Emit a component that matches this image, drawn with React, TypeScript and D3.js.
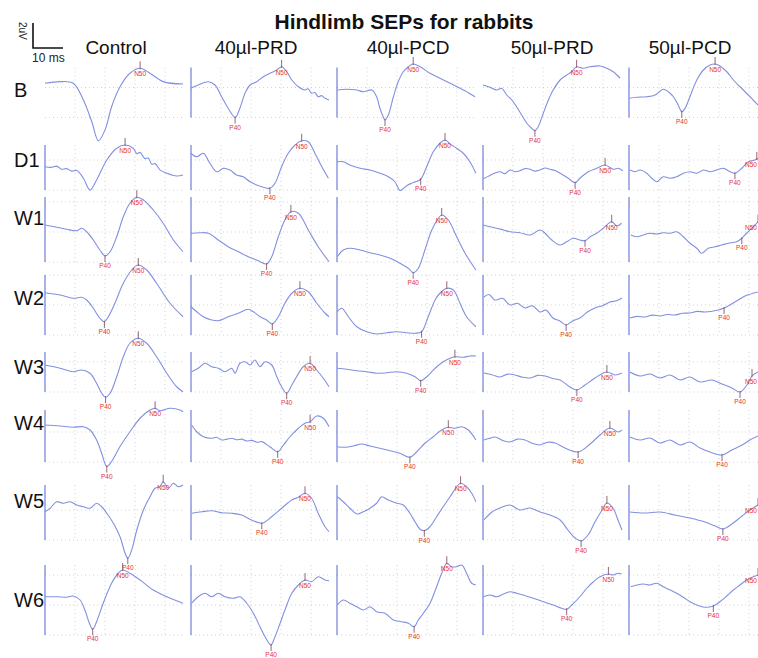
import React from 'react';
import * as d3 from 'd3';

// Hindlimb SEP traces: [time (ms), amplitude (µV)]
const columns = ['Control', '40µl-PRD', '40µl-PCD', '50µl-PRD', '50µl-PCD'];
const rows = ['B', 'D1', 'W1', 'W2', 'W3', 'W4', 'W5', 'W6'];

// Control
const ctlB = [[0,0.94],[5,1.07],[9.4,0.94],[12.8,-0.4],[15.6,-2.14],[17.8,-3.66],[20,-2.8],[22.2,-0.94],[25,0.66],[28.3,1.74],[31.7,2.14],[35,1.74],[39.4,1.07],[46,0.88]];
const ctlD1 = [[0,-0.7],[2,-0.75],[3.9,-0.65],[5.5,-0.9],[7.2,-0.85],[9,-1.05],[10.6,-1.0],[12.8,-1.62],[15,-2.56],[17.2,-1.76],[20.6,-0.16],[23.9,0.78],[26.7,1.04],[29.4,0.78],[30.6,0.35],[31.7,0.45],[33.3,-0.05],[34.4,0],[35.6,-0.5],[36.7,-0.45],[38.3,-0.95],[40.6,-1.22],[43.9,-1.44],[46,-1.36]];
const ctlW1 = [[0,-0.4],[3.9,-0.58],[7.2,-0.74],[10.6,-0.86],[12.2,-0.66],[13.9,-0.94],[16.1,-1.6],[18.3,-2.4],[20,-2.88],[21.7,-2.54],[23.9,-1.34],[26.1,0.26],[28.3,1.34],[30.6,1.82],[32.8,1.6],[36.1,0.8],[39.4,-0.26],[42.8,-1.6],[46,-2.54]];
const ctlW2 = [[0,0.34],[5,0.16],[9.4,-0.1],[12.2,-0.02],[13.9,-0.24],[16.1,-0.9],[18.3,-1.7],[19.8,-1.98],[21.1,-1.58],[23.3,-0.5],[26.1,1.1],[28.9,2.16],[31.1,2.56],[33.9,2.16],[37.2,1.1],[41.7,-0.5],[46,-1.58]];
const ctlW3 = [[0,0.08],[5,-0.18],[9.4,-0.46],[12.2,-0.32],[15,-0.58],[17.2,-1.38],[18.9,-2.18],[20.2,-2.5],[21.7,-2.18],[23.9,-0.86],[26.1,0.74],[28.3,1.82],[31.1,2.22],[33.9,1.82],[37.2,0.74],[40.6,-0.58],[43.9,-1.66],[46,-2.06]];
const ctlW4 = [[0,-0.32],[5,-0.4],[9.4,-0.5],[12.8,-0.46],[15,-0.72],[17.2,-1.52],[18.9,-2.58],[20.6,-3.64],[22.2,-3.24],[25,-2.04],[28.3,-0.86],[31.7,0.22],[35,0.88],[36.7,1.02],[38.3,0.82],[41.7,1.02],[45,0.88],[46,0.74]];
const ctlW5 = [[0,-0.94],[1.7,-0.66],[3.9,-0.14],[6.1,-0.26],[8.3,-0.14],[10.6,-0.4],[12.8,-0.54],[15,-0.66],[17.2,-0.26],[18.9,-0.54],[20.6,-1.06],[22.8,-1.86],[25,-2.94],[26.7,-4.26],[27.6,-4.66],[28.9,-4],[30.6,-2.4],[32.8,-0.8],[35,0.26],[36.7,0.94],[38.3,1.06],[39.4,1.46],[41.1,0.94],[42.8,1.34],[44.4,1.06],[46,1.2]];
const ctlW6 = [[0,0.1],[3.9,0.1],[7.2,0.06],[9.4,0.16],[11.7,-0.16],[13.3,-0.96],[14.8,-2.02],[15.9,-2.5],[17.2,-1.9],[19.4,-0.42],[22.2,1.18],[24.4,1.98],[25.9,2.24],[28.3,1.98],[31.7,1.44],[36.1,0.64],[40.6,0.1],[46,-0.42]];

// 40µl-PRD
const prd40B = [[0,0.54],[2.4,0.8],[5.8,1.06],[8,0.8],[10.2,-0.14],[12.4,-1.06],[14.7,-1.8],[16.3,-1.06],[18,0.14],[19.7,0.8],[21.9,1.06],[24.1,1.46],[26.3,1.74],[28.6,2],[30.2,2.26],[31.9,1.86],[33.6,1.2],[35.8,0.66],[38,0.4],[39,0.5],[40.2,0.14],[41.3,0.2],[42.4,-0.14],[43.5,-0.05],[44.7,-0.26],[46,-0.4]];
const prd40D1 = [[0,0.38],[1.9,0.1],[4.1,0.38],[6.3,-0.42],[8.6,-1.1],[10.8,-0.82],[13,-0.96],[15.2,-1.36],[17.4,-1.5],[19.7,-1.9],[21.9,-2.16],[24.1,-2.34],[26.3,-2.42],[28,-2.02],[30.2,-0.7],[32.4,0.38],[34.7,1.04],[36.9,1.38],[39.1,1.3],[41.3,0.38],[43.6,-0.7],[45.8,-1.62]];
const prd40W1 = [[0,-1.06],[3,-1.02],[5.8,-1.06],[9.1,-1.6],[12.4,-2.14],[15.8,-2.54],[19.1,-2.94],[22.4,-3.26],[25.2,-3.52],[26.9,-2.94],[29.1,-1.34],[31.3,0],[33.3,0.66],[35.8,0.54],[39.1,-0.8],[42.4,-2.14],[46,-3.34]];
const prd40W2 = [[0,-0.78],[1.9,-1.18],[4.1,-1.58],[6.9,-1.84],[9.1,-1.9],[12.4,-1.58],[15.8,-1.3],[19.1,-0.98],[20.8,-1.18],[23,-1.58],[25.2,-1.84],[27.1,-2.16],[29.1,-1.58],[31.3,-0.5],[33.6,0.3],[36.3,0.7],[39.1,0.42],[41.9,-0.5],[44.7,-1.3],[46,-1.58]];
const prd40W3 = [[0.2,-0.46],[2.4,-0.18],[4.7,0.22],[6.9,-0.06],[9.1,-0.18],[11.3,-0.46],[13.6,-0.18],[14.7,-0.58],[16.3,0.22],[18,0.34],[19.7,0.08],[21.3,0.48],[23,-0.06],[24.7,0.34],[26.9,0.08],[28.6,-0.86],[30.2,-1.66],[31.9,-2.18],[33.6,-1.52],[35.2,-0.86],[37.4,-0.06],[39.7,0.22],[41.9,-0.32],[44.1,-0.98],[46,-1.66]];
const prd40W4 = [[0.2,-0.32],[1.9,-0.86],[4.1,-1.26],[6.9,-1.38],[8.5,-1.3],[10.2,-1.52],[12,-1.45],[13.6,-1.38],[15.2,-1.5],[16.9,-1.45],[18.5,-1.6],[20.2,-1.55],[22,-1.7],[23.6,-1.65],[26.3,-2.06],[28.9,-2.46],[30.8,-1.92],[33,-1.26],[35.8,-0.58],[38,-0.18],[39.7,-0.06],[41.9,0.4],[44.1,0.22],[46,-0.46]];
const prd40W5 = [[0.2,-1.06],[3.6,-0.94],[6.9,-0.86],[10.2,-1.02],[13.6,-1.06],[16.9,-1.2],[20.2,-1.6],[23.6,-1.86],[26.9,-1.34],[30.2,-0.66],[33.6,0],[35.8,0.22],[38,0.54],[40.2,0.14],[42.4,-1.06],[44.7,-2.14],[46,-2.54]];
const prd40W6 = [[0.2,-0.42],[2.4,0.1],[4.7,0.38],[6.9,0.1],[9.1,0.38],[11.3,0.1],[14.1,-0.02],[16.3,0.1],[18.6,-0.42],[20.8,-1.22],[23,-2.3],[24.7,-3.1],[26,-3.62],[26.7,-3.76],[27.8,-3.22],[29.7,-2.02],[31.3,-0.96],[33.6,0.38],[35.8,1.04],[38,1.44],[40.2,1.3],[42.4,1.7],[44.7,1.44],[46,1.38]];

// 40µl-PCD
const pcd40B = [[0.1,0.4],[3.2,0.46],[6.6,0.4],[8.8,0.26],[11.6,0.4],[13.2,-0.14],[14.3,-1.06],[15.4,-1.74],[16,-2],[17.1,-1.6],[18.8,-0.14],[20.4,1.06],[22.1,1.86],[23.8,2.26],[25.4,2.48],[27.7,2.26],[31,1.74],[34.3,1.34],[37.7,0.94],[41,0.54],[43.8,0.18],[46,-0.14]];
const pcd40D1 = [[0.1,-0.3],[2.1,-0.3],[4.3,-0.56],[7.7,-0.82],[11,-0.96],[14.3,-1.22],[17.1,-1.5],[19.3,-1.9],[21,-2.6],[22.3,-2.4],[23.6,-2.16],[24.9,-2.02],[26.2,-1.9],[27.9,-1.7],[29.9,-0.7],[32.1,0.5],[34.3,1.18],[36,1.44],[37.7,1.12],[39.9,0.78],[42.1,0.38],[44.3,-0.3],[46.3,-1.22]];
const pcd40W1 = [[0.1,-2.94],[2.1,-2.4],[4.3,-2.26],[7.7,-2.4],[11,-2.62],[14.3,-2.8],[17.7,-3.06],[21,-3.46],[23.8,-3.86],[25.4,-4.22],[27.1,-3.86],[29.3,-2.4],[31.6,-0.8],[33.8,0.14],[34.9,0.4],[37.1,0],[39.9,-1.34],[42.7,-2.66],[46.3,-4]];
const pcd40W2 = [[0.1,-1.18],[1.6,-0.9],[3.8,-1.58],[6.6,-2.38],[9.9,-2.78],[13.2,-2.96],[16.6,-2.86],[19.9,-2.78],[23.2,-2.86],[26,-2.9],[28.2,-2.78],[30.4,-1.58],[32.7,-0.24],[34.3,0.3],[36.6,0.7],[38.8,0.56],[41,-0.5],[43.2,-1.58],[46.3,-2.38]];
const pcd40W3 = [[0.1,-0.18],[3.2,-0.26],[6.6,-0.38],[9.9,-0.46],[13.2,-0.58],[16.6,-0.54],[19.9,-0.46],[23.2,-0.58],[26,-0.86],[27.9,-1.18],[29.9,-0.86],[32.7,-0.18],[35.4,0.34],[37.7,0.62],[39.3,0.74],[42.1,0.7],[44.3,0.8],[46.3,0.8]];
const pcd40W4 = [[0.1,-2.06],[2.7,-2.1],[5.4,-2],[8.2,-1.84],[11,-2],[14.3,-2.18],[17.7,-2.38],[21,-2.58],[24.3,-2.9],[26.6,-2.46],[29.3,-1.78],[32.1,-1.26],[34.9,-0.72],[37.1,-0.5],[39.3,-0.58],[41.6,-0.46],[43.8,-0.72],[46.3,-1.52]];
const pcd40W5 = [[0.1,0.26],[2.1,-0.14],[4.3,-0.66],[6.6,-1.12],[8.8,-0.94],[11,-0.66],[13.2,-0.26],[14.9,0.26],[17.1,0],[19.9,-0.26],[22.1,-0.4],[24.3,-1.06],[26,-1.74],[27.7,-2.34],[29.1,-2.46],[31,-2.14],[33.2,-1.34],[35.4,-0.54],[37.7,0.26],[39.9,1.06],[41.2,1.34],[43.2,1.06],[44.9,0.54],[46.3,-0.14]];
const pcd40W6 = [[0.1,-0.56],[2.1,-0.16],[4.3,-0.42],[6.6,-0.7],[8.8,-0.96],[11,-0.7],[13.2,-1.1],[16,-1.22],[18.8,-1.76],[21.6,-1.9],[23.8,-2.02],[25.7,-2.3],[27.1,-1.76],[28.8,-1.22],[31,-0.42],[33.2,0.9],[34.9,1.98],[36.6,2.78],[38.2,2.5],[39.9,2.5],[41.6,2.64],[43.2,1.98],[44.9,1.18],[46.3,1.04]];

// 50µl-PRD
const prd50B = [[0,0.8],[2.3,0.62],[4.6,0.4],[6.2,0.54],[7.9,0],[9.6,-0.4],[11.2,-0.94],[12.9,-1.6],[14.6,-2.26],[16.2,-2.66],[17.3,-2.86],[18.4,-2.54],[20.1,-1.46],[21.8,-0.4],[23.4,0.4],[25.7,1.2],[27.9,1.6],[29.6,1.86],[31.2,2.26],[33.4,2.14],[35.7,2.26],[39,2.32],[41.2,2.14],[43.4,1.86],[45.7,1.34]];
const prd50D1 = [[0.1,-1.66],[2.3,-1.4],[4,-1.2],[5.7,-1.1],[7.3,-1.25],[9,-0.96],[10.7,-1.1],[12.3,-1.02],[14,-0.85],[15.7,-0.9],[17.3,-1.05],[19,-0.96],[20.7,-0.8],[22.3,-0.9],[24,-1.0],[25.7,-1.22],[28.4,-1.62],[30.7,-1.98],[32.3,-1.62],[35.1,-1.1],[37.9,-0.82],[40.7,-0.56],[43.4,-0.9],[45.1,-0.82],[46.6,-1.02]];
const prd50W1 = [[0.1,-0.4],[2.3,-0.54],[4.6,-0.66],[6.8,-0.8],[9,-0.94],[12.3,-1.02],[15.7,-1.2],[19,-0.8],[20.7,-1.06],[22.9,-1.6],[25.7,-2],[27.9,-1.74],[30.1,-1.46],[32.3,-1.6],[34,-1.66],[35.7,-1.34],[37.9,-1.06],[40.1,-0.66],[42.9,-0.14],[44.6,-0.48],[46.2,-0.26]];
const prd50W2 = [[0.3,0],[2,0.2],[4,-0.24],[6.5,-0.1],[9,-0.64],[11.5,-0.5],[14,-0.88],[16.5,-0.7],[19,-1.2],[21,-1.05],[23.3,-1.68],[25.5,-1.9],[27.7,-2.24],[30,-1.9],[32.3,-1.68],[34.8,-1.2],[37.3,-0.88],[39.8,-0.7],[42.3,-0.4],[44.5,-0.3],[46.3,-0.08]];
const prd50W3 = [[0.3,-0.56],[3,-0.7],[5.7,-0.88],[8.2,-0.65],[10.7,-0.72],[13.2,-0.9],[15.7,-0.96],[18.2,-0.75],[20.7,-0.8],[23.2,-1.0],[25.7,-1.12],[29,-1.68],[31.3,-1.92],[34,-1.52],[37.3,-0.96],[41.3,-0.48],[44,-0.72],[46.3,-0.56]];
const prd50W4 = [[0.3,-1.52],[2,-1.4],[4,-1.28],[6.5,-1.55],[9,-1.68],[11.5,-1.45],[14,-1.52],[16.5,-1.8],[19,-1.92],[21.5,-1.7],[24,-1.76],[27.3,-2.16],[31.7,-2.48],[35.7,-1.84],[39,-1.12],[42.3,-0.56],[45,-0.88],[46.3,-0.72]];
const prd50W5 = [[0.3,-1.6],[3,-0.96],[5.7,-0.64],[9,-0.4],[12.3,-0.8],[15.7,-0.64],[19,-0.96],[22.3,-1.2],[25.7,-1.6],[28.3,-2.4],[30.7,-3.04],[32.7,-3.28],[35,-2.8],[37.3,-1.76],[39.7,-0.8],[41.3,-0.24],[43.3,-0.64],[45,-1.6],[46.3,-2.4]];
const prd50W6 = [[0.1,0.1],[2.3,0.24],[4.6,0.1],[6.8,0.32],[9,0.5],[11.2,0.38],[13.4,0.24],[16.8,-0.02],[20.1,-0.3],[23.4,-0.56],[26.2,-0.82],[27.9,-0.9],[29.6,-0.56],[32.3,0.1],[34.6,0.78],[36.8,1.3],[39,1.7],[41.8,1.92],[43.4,1.84],[45.1,1.98],[46.2,1.92]];

// 50µl-PCD (panel runs past the right edge)
const pcd50B = [[0.1,-0.26],[2.6,-0.18],[5.9,-0.14],[8.7,0],[11.4,0.46],[13.1,0.26],[14.8,-0.14],[16.4,-0.8],[17.6,-1.34],[18.7,-1.06],[20.3,-0.14],[22.6,1.2],[24.8,2],[27,2.4],[28.7,2.48],[30.3,2.32],[32.6,1.86],[34.8,1.2],[37,0.66],[39.2,0.14],[41.4,-0.4],[43,-0.8]];
const pcd50D1 = [[0.3,-0.96],[2,-1.1],[3.7,-0.96],[5.9,-1.22],[7.6,-1.62],[9.2,-1.9],[11.4,-1.5],[13.7,-1.62],[15.9,-1.5],[18.1,-1.22],[20.3,-1.1],[22.6,-1.22],[24.8,-0.96],[27,-1.1],[29.2,-0.96],[31.4,-0.82],[33.7,-1.1],[35.3,-1.22],[37.6,-0.82],[39.8,-0.3],[42,-0.16],[43,-0.02]];
const pcd50W1 = [[0.6,-1.2],[2.6,-1.34],[4.8,-1.2],[7,-1.06],[9.2,-1.12],[11.4,-1.02],[13.7,-1.06],[15.9,-0.94],[18.1,-1.34],[20.3,-1.86],[22.6,-2.26],[24.2,-2.66],[26.4,-2.26],[28.7,-2.14],[30.9,-2],[33.1,-1.86],[35.9,-1.74],[37.6,-1.46],[39.2,-1.06],[40.9,-0.66],[42,-0.4],[43,-0.14]];
const pcd50W2 = [[0.3,-1.68],[2.8,-1.55],[5.3,-1.6],[7.8,-1.45],[10.3,-1.52],[12.8,-1.4],[15.3,-1.44],[17.8,-1.3],[20.3,-1.28],[22.8,-1.15],[25.3,-1.2],[29.7,-1.04],[31.7,-0.88],[35.3,-0.4],[38.7,0.08],[43,0.4]];
const pcd50W3 = [[0.3,-0.48],[3.7,-0.8],[7,-0.64],[10.3,-0.96],[13.7,-0.72],[17,-1.12],[20.3,-0.88],[23.7,-1.28],[27.7,-1.12],[31,-1.44],[34.3,-1.76],[37,-2.08],[39.3,-1.52],[41,-0.8],[43,-0.48]];
const pcd50W4 = [[0.3,-1.28],[3.7,-1.52],[7,-1.36],[10.3,-1.76],[13.7,-1.52],[17,-1.92],[20.3,-1.68],[23.7,-2.16],[27,-2.48],[31,-2.72],[34.3,-2.32],[37.7,-1.92],[40.3,-1.52],[43,-1.2]];
const pcd50W5 = [[0.3,-0.96],[5.3,-1.04],[10.3,-0.96],[15.3,-1.2],[20.3,-1.44],[25.3,-1.76],[28.7,-2.08],[31.3,-2.32],[34.3,-1.92],[37.7,-1.28],[40.3,-0.8],[43,-0.4]];
const pcd50W6 = [[0.6,0.9],[2.6,1.04],[4.8,1.12],[7,1.04],[9.2,1.18],[11.4,0.9],[13.7,0.64],[15.9,0.38],[18.1,0.06],[20.3,-0.3],[22.6,-0.56],[25.3,-0.74],[28.1,-0.64],[30.3,-0.3],[32.6,0.16],[34.8,0.64],[37,1.04],[39.2,1.44],[41.4,1.7],[43,1.84]];

// latency markers (ms), null = not marked
const p40Times = [
  [null, 14.7, 16, 17.3, 17.6],
  [null, 26.3, 27.9, 30.7, 35.3],
  [20, 25.2, 25.4, 34, 37.6],
  [19.8, 27.1, 28.2, 27.7, 31.7],
  [20.2, 31.9, 27.9, 31.3, 37],
  [20.6, 28.9, 24.3, 31.7, 31],
  [27.6, 23.6, 29.1, 32.7, 31.3],
  [15.9, 26.7, 25.7, 27.9, 28.1],
];
const n50Times = [
  [31.7, 30.2, 25.4, 31.2, 28.7],
  [26.7, 36.9, 36, 40.7, 42.6],
  [30.6, 33.3, 34.9, 42.9, 43],
  [31.1, 36.3, 36.6, null, null],
  [31.1, 39.7, 39.3, 41.3, 41],
  [36.7, 39.7, 37.1, 42.3, null],
  [39.4, 38, 41.2, 41.3, 43],
  [25.9, 38, 36.6, 41.8, 43],
];

// vertical extent of each row's panel axis, µV
const axisSpan = [[2.2, -1.8], [1.04, -2.56], [1.84, -3.36], [1.76, -3.04], [1.12, -2.08], [0.88, -3.28], [1.2, -3.2], [2.64, -2.96]];

const traces = [
  [ctlB, prd40B, pcd40B, prd50B, pcd50B],
  [ctlD1, prd40D1, pcd40D1, prd50D1, pcd50D1],
  [ctlW1, prd40W1, pcd40W1, prd50W1, pcd50W1],
  [ctlW2, prd40W2, pcd40W2, prd50W2, pcd50W2],
  [ctlW3, prd40W3, pcd40W3, prd50W3, pcd50W3],
  [ctlW4, prd40W4, pcd40W4, prd50W4, pcd50W4],
  [ctlW5, prd40W5, pcd40W5, prd50W5, pcd50W5],
  [ctlW6, prd40W6, pcd40W6, prd50W6, pcd50W6],
];

// layout
const W = 758;
const H = 658;
const colLeft = [45, 191, 337, 483, 629];
const headerX = [116, 256, 408, 552, 690];
const rowRef = [95, 158, 220, 297, 366, 421, 500, 598];
const labelDy = [2, 9, 5, 8, 8, 9, 8, 9];
const FONT = 'Liberation Sans, Arial, Helvetica, sans-serif';
const TRACE = '#8290e0';
const AXIS = '#5a6bd4';
const RED = '#e5332e';

const valueAt = (pts: number[][], t: number) => {
  for (let i = 0; i < pts.length - 1; i++) {
    const [t0, v0] = pts[i];
    const [t1, v1] = pts[i + 1];
    if (t >= t0 && t <= t1) return v0 + ((t - t0) / (t1 - t0 || 1)) * (v1 - v0);
  }
  return pts[pts.length - 1][1];
};

export default function App() {
  // 10 ms = 30 px, 2 µV = 25 px (scale bar)
  const x = d3.scaleLinear().domain([0, 10]).range([0, 30]);
  const y = d3.scaleLinear().domain([0, 2]).range([0, -25]);
  const line = d3
    .line<number[]>()
    .x((d) => x(d[0]))
    .y((d) => y(d[1]))
    .curve(d3.curveCatmullRom.alpha(0.5));

  const gridT = [10, 20, 30, 40];

  // keep marker labels inside the picture at the right edge
  const labelPos = (ci: number, t: number) => {
    const abs = colLeft[ci] + x(t);
    return abs + 9 > W ? { x: W - 1 - abs, anchor: 'end' } : { x: 0, anchor: 'middle' };
  };

  return (
    <svg
      width={W}
      height={H}
      style={{ position: 'absolute', left: 0, top: 0, background: '#fff' }}
      fontFamily={FONT}
    >
      <rect width={W} height={H} fill="#fff" />

      <text x={404} y={29} textAnchor="middle" fontSize={21} fontWeight="bold" fill="#111">
        Hindlimb SEPs for rabbits
      </text>

      {/* scale bar */}
      <g transform="translate(33,48)">
        <path d={`M0,${y(2)}V0H${x(10)}`} fill="none" stroke="#111" strokeWidth={1.6} />
        <text transform={`translate(-14,${y(2) - 1}) rotate(90)`} fontSize={10} fill="#222">
          2uV
        </text>
        <text x={-1} y={14} fontSize={12} fill="#222">
          10 ms
        </text>
      </g>

      {columns.map((c, ci) => (
        <text key={c} x={headerX[ci]} y={54} textAnchor="middle" fontSize={19} fill="#111">
          {c}
        </text>
      ))}

      {rows.map((r, ri) => (
        <text key={r} x={14} y={rowRef[ri] + labelDy[ri]} fontSize={20} fill="#111">
          {r}
        </text>
      ))}

      {traces.map((rowTr, ri) =>
        rowTr.map((pts, ci) => {
          const [hi, lo] = axisSpan[ri];
          const lastT = pts[pts.length - 1][0];
          const hLevels: number[] = [];
          for (let v = lo; v <= hi + 0.01; v += 2.4) hLevels.push(v);
          const p40 = p40Times[ri][ci];
          const n50 = n50Times[ri][ci];
          const nl = n50 !== null ? labelPos(ci, n50) : null;
          const pl = p40 !== null ? labelPos(ci, p40) : null;
          return (
            <g key={`${ri}-${ci}`} transform={`translate(${colLeft[ci]},${rowRef[ri]})`}>
              {/* dotted panel grid */}
              {gridT.map((t) => (
                <line key={`v${t}`} x1={x(t)} x2={x(t)} y1={y(hi)} y2={y(lo)} stroke="#c9cdd9" strokeWidth={0.9} strokeDasharray="1 3" />
              ))}
              {hLevels.map((v, k) => (
                <line key={`h${k}`} x1={x(0)} x2={x(lastT)} y1={y(v)} y2={y(v)} stroke="#c9cdd9" strokeWidth={0.9} strokeDasharray="1 3" />
              ))}
              {!(ri === 0 && (ci === 0 || ci === 3)) && (
                <line x1={0} x2={0} y1={y(hi)} y2={y(lo)} stroke={AXIS} strokeWidth={1.3} opacity={0.8} />
              )}
              <path d={line(pts) || ''} fill="none" stroke={TRACE} strokeWidth={1.1} strokeLinejoin="round" />
              {n50 !== null && nl && (
                <g transform={`translate(${x(n50)},${y(valueAt(pts, n50))})`}>
                  <line x1={0} x2={0} y1={-7} y2={1} stroke="#7a4052" strokeWidth={0.8} />
                  <text x={nl.x} y={8} textAnchor={nl.anchor} fontSize={6.5} fill={RED}>
                    N50
                  </text>
                </g>
              )}
              {p40 !== null && pl && (
                <g transform={`translate(${x(p40)},${y(valueAt(pts, p40))})`}>
                  <line x1={0} x2={0} y1={-1} y2={6} stroke="#7a4052" strokeWidth={0.8} />
                  <text x={pl.x} y={12} textAnchor={pl.anchor} fontSize={6.5} fill={RED}>
                    P40
                  </text>
                </g>
              )}
            </g>
          );
        })
      )}
    </svg>
  );
}
